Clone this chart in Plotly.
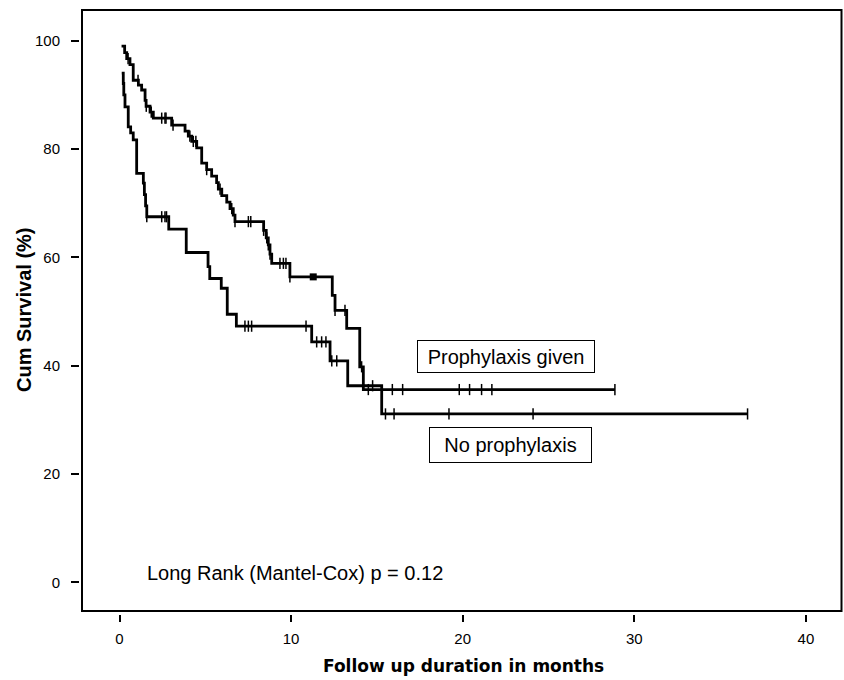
import plotly.graph_objects as go

# ---------------- data ----------------
# Prophylaxis given: event times (months) and survival (%) after each event
prophy_time = [0.12, 0.30, 0.42, 0.61, 0.80, 1.10, 1.29, 1.49, 1.55, 1.78, 1.97,
               3.04, 3.82, 4.01, 4.21, 4.50, 4.79, 5.08, 5.37, 5.66, 5.76, 5.96,
               6.25, 6.44, 6.63, 6.73, 8.40, 8.55, 8.67, 8.77, 8.87, 9.93,
               12.40, 12.56, 13.24, 14.00, 14.21]
prophy_surv = [99.0, 97.8, 96.7, 95.6, 92.7, 91.8, 90.9, 89.0, 87.9, 86.8, 85.7,
               84.4, 83.3, 82.4, 81.4, 80.2, 77.4, 76.2, 75.0, 73.8, 72.6, 71.4,
               70.2, 69.0, 67.8, 66.6, 65.0, 63.6, 62.3, 60.6, 58.9, 56.4,
               53.0, 50.2, 46.9, 39.8, 35.6]
prophy_end = 28.87
prophy_censor = [0.50, 1.08, 1.56, 1.85, 2.46, 2.65, 2.71, 3.12, 4.10, 4.30, 4.45,
                 5.08, 5.86, 6.54, 6.73, 7.51, 7.65, 8.40, 8.58, 8.67, 8.77, 9.35,
                 9.55, 9.70, 9.93, 12.56, 13.14, 14.11, 14.50, 15.90, 16.50, 19.80,
                 20.40, 21.10, 21.70, 28.87]
prophy_cluster = [11.29]

# No prophylaxis
noproph_time = [0.13, 0.22, 0.25, 0.32, 0.51, 0.65, 0.80, 1.00, 1.39, 1.45, 1.52,
                1.59, 2.87, 3.89, 5.16, 5.26, 5.93, 6.28, 6.81, 11.20, 12.27,
                13.30, 15.28]
noproph_surv = [94.0, 92.1, 90.0, 87.8, 84.1, 83.0, 81.7, 75.5, 73.7, 71.6, 69.5,
                67.5, 65.2, 60.9, 58.3, 56.1, 54.3, 49.5, 47.3, 44.4, 40.9,
                36.3, 31.1]
noproph_end = 36.6
noproph_censor = [1.59, 2.46, 2.65, 2.74, 7.31, 7.51, 7.70, 10.87, 11.49, 11.78,
                  12.03, 12.37, 12.66, 14.75, 15.50, 16.00, 19.20, 24.10, 36.60]

x_ticks = [0, 10, 20, 30, 40]
y_ticks = [0, 20, 40, 60, 80, 100]

group_labels = ["Prophylaxis given", "No prophylaxis"]
test_text = "Long Rank (Mantel-Cox) p = 0.12"
x_title = "Follow up duration in months"
y_title = "Cum Survival (%)"


def surv_at(times, survs, t):
    s = survs[0]
    for ti, si in zip(times, survs):
        if ti <= t + 1e-9:
            s = si
    return s


W, H = 844, 680
L, R, T, B = 80, 2, 10, 66
pw, ph = W - L - R, H - T - B

fig = go.Figure()

for times, survs, end, cens in [
    (prophy_time, prophy_surv, prophy_end, prophy_censor),
    (noproph_time, noproph_surv, noproph_end, noproph_censor),
]:
    xs = list(times) + [end]
    ys = list(survs) + [survs[-1]]
    fig.add_trace(go.Scatter(x=xs, y=ys, mode="lines",
                             line=dict(color="black", width=2.8, shape="hv"),
                             hoverinfo="skip", showlegend=False))
    fig.add_trace(go.Scatter(x=cens, y=[surv_at(times, survs, c) for c in cens],
                             mode="markers",
                             marker=dict(symbol="line-ns", size=8,
                                         line=dict(color="black", width=1.5)),
                             hoverinfo="skip", showlegend=False))

fig.add_trace(go.Scatter(x=prophy_cluster,
                         y=[surv_at(prophy_time, prophy_surv, c) for c in prophy_cluster],
                         mode="markers",
                         marker=dict(symbol="square", size=7, color="black"),
                         hoverinfo="skip", showlegend=False))

# frame
fig.add_shape(type="rect", xref="paper", yref="paper",
              x0=2 / pw, x1=1 - 0.5 / pw, y0=3 / ph, y1=1,
              line=dict(color="black", width=2), fillcolor="rgba(0,0,0,0)")

fig.add_annotation(x=22.55, y=41.74, text=group_labels[0], showarrow=False,
                   font=dict(family="Liberation Sans, Arial", size=20, color="black"),
                   bordercolor="black", borderwidth=1, borderpad=0,
                   width=176, height=31, bgcolor="white")
fig.add_annotation(x=22.80, y=25.42, text=group_labels[1], showarrow=False,
                   font=dict(family="Liberation Sans, Arial", size=20, color="black"),
                   bordercolor="black", borderwidth=1, borderpad=0,
                   width=161, height=34, bgcolor="white")
fig.add_annotation(x=10.21, y=1.73, text=test_text, showarrow=False,
                   font=dict(family="Liberation Sans, Arial", size=20, color="black"))

fig.add_annotation(xref="paper", yref="paper", x=(463.3 - L) / pw, y=(T + ph - 666) / ph,
                   text="<b>" + x_title + "</b>", showarrow=False,
                   xanchor="center", yanchor="middle",
                   font=dict(family="DejaVu Sans", size=17, color="black"))
fig.add_annotation(xref="paper", yref="paper", x=(24 - L) / pw, y=(T + ph - 310) / ph,
                   text="<b>" + y_title + "</b>", showarrow=False, textangle=-90,
                   xanchor="center", yanchor="middle",
                   font=dict(family="Liberation Sans, Arial", size=20, color="black"))

fig.update_xaxes(range=[(80 - 119.5) / 17.16, (842 - 119.5) / 17.16],
                 tickvals=x_ticks, ticktext=[str(v) for v in x_ticks],
                 ticks="outside", ticklen=7, tickwidth=2, tickcolor="black",
                 ticklabelstandoff=4,
                 showgrid=False, zeroline=False, showline=False,
                 tickfont=dict(family="Liberation Sans, Arial", size=15, color="black"))
fig.update_yaxes(range=[100 - (614 - 40.7) / 5.417, 100 + (40.7 - 10) / 5.417],
                 tickvals=y_ticks, ticktext=[str(v) for v in y_ticks],
                 ticks="outside", ticklen=8, tickwidth=2, tickcolor="black",
                 ticklabelstandoff=8,
                 showgrid=False, zeroline=False, showline=False,
                 tickfont=dict(family="Liberation Sans, Arial", size=15, color="black"))

fig.update_layout(width=W, height=H, margin=dict(l=L, r=R, t=T, b=B, autoexpand=False),
                  plot_bgcolor="white", paper_bgcolor="white", showlegend=False)

fig.write_html("out.html",
               config={"displayModeBar": False},
               post_script="document.body.style.margin='0px';"
                           "document.body.style.overflow='hidden';")
